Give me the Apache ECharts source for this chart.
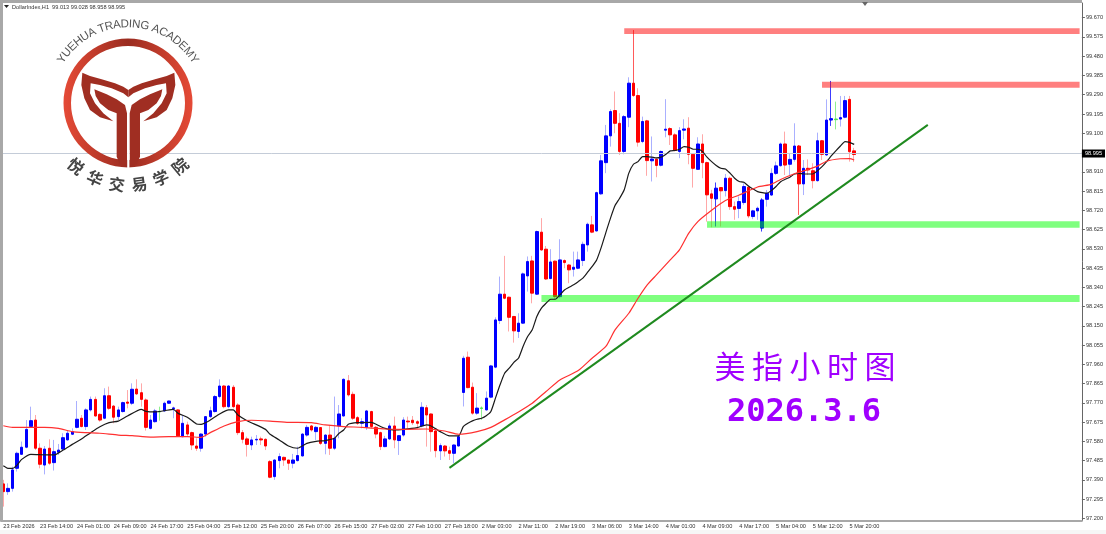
<!DOCTYPE html>
<html><head><meta charset="utf-8"><style>html,body{margin:0;padding:0;background:#fff}#c{width:1106px;height:534px;filter:blur(0.35px)}</style>
<script src="https://cdn.jsdelivr.net/npm/echarts@6/dist/echarts.min.js"></script></head><body><div id="c"></div>
<script>
const tickLabels=["23 Feb 2026","23 Feb 14:00","24 Feb 01:00","24 Feb 09:00","24 Feb 17:00","25 Feb 04:00","25 Feb 12:00","25 Feb 20:00","26 Feb 07:00","26 Feb 15:00","27 Feb 02:00","27 Feb 10:00","27 Feb 18:00","2 Mar 03:00","2 Mar 11:00","2 Mar 19:00","3 Mar 06:00","3 Mar 14:00","4 Mar 01:00","4 Mar 09:00","4 Mar 17:00","5 Mar 04:00","5 Mar 12:00","5 Mar 20:00"];
const priceTicks=[97.200,97.295,97.390,97.485,97.580,97.675,97.770,97.865,97.960,98.055,98.150,98.245,98.340,98.435,98.530,98.625,98.720,98.815,98.910,99.005,99.100,99.195,99.290,99.385,99.480,99.575,99.670];
const open=[97.370,97.332,97.348,97.447,97.516,97.551,97.653,97.685,97.546,97.463,97.546,97.475,97.526,97.542,97.587,97.615,97.649,97.694,97.653,97.735,97.787,97.713,97.694,97.805,97.754,97.702,97.727,97.774,97.768,97.838,97.820,97.784,97.644,97.677,97.725,97.730,97.768,97.741,97.735,97.603,97.661,97.623,97.557,97.546,97.616,97.702,97.727,97.801,97.853,97.751,97.847,97.759,97.623,97.592,97.562,97.587,97.592,97.590,97.480,97.406,97.485,97.501,97.488,97.472,97.485,97.508,97.611,97.656,97.628,97.648,97.570,97.611,97.546,97.656,97.705,97.879,97.812,97.697,97.669,97.649,97.727,97.649,97.623,97.554,97.592,97.656,97.584,97.611,97.680,97.684,97.677,97.656,97.746,97.715,97.631,97.533,97.557,97.534,97.521,97.557,97.821,97.995,97.847,97.719,97.742,97.735,97.798,97.946,98.176,98.306,98.291,98.196,98.122,98.163,98.396,98.470,98.306,98.612,98.528,98.383,98.469,98.294,98.472,98.450,98.429,98.434,98.472,98.549,98.648,98.618,98.801,98.955,99.087,99.212,99.149,99.010,99.179,99.347,99.286,99.059,99.161,98.964,98.972,98.942,99.115,99.123,99.092,99.010,99.115,99.125,98.996,98.922,99.047,98.955,98.801,98.776,98.832,98.817,98.878,98.738,98.729,98.758,98.834,98.689,98.717,98.632,98.774,98.795,98.902,98.940,99.047,98.947,98.971,99.037,98.850,98.927,98.915,98.866,99.063,98.993,99.165,99.167,99.170,99.179,99.267,99.013];
const close=[97.332,97.348,97.439,97.521,97.551,97.639,97.682,97.546,97.467,97.542,97.472,97.529,97.537,97.598,97.620,97.628,97.689,97.653,97.735,97.787,97.705,97.685,97.805,97.743,97.699,97.735,97.771,97.768,97.837,97.814,97.787,97.649,97.685,97.730,97.728,97.768,97.779,97.745,97.607,97.669,97.616,97.562,97.546,97.616,97.702,97.731,97.801,97.853,97.751,97.853,97.751,97.623,97.590,97.565,97.587,97.590,97.587,97.557,97.403,97.488,97.505,97.488,97.472,97.488,97.510,97.616,97.649,97.636,97.649,97.570,97.611,97.546,97.595,97.715,97.886,97.809,97.694,97.669,97.677,97.730,97.653,97.616,97.554,97.592,97.656,97.587,97.608,97.685,97.676,97.672,97.669,97.748,97.710,97.628,97.534,97.559,97.533,97.521,97.562,97.603,97.990,97.845,97.719,97.744,97.745,97.793,97.952,98.179,98.306,98.286,98.192,98.125,98.163,98.406,98.467,98.311,98.615,98.524,98.381,98.465,98.294,98.475,98.462,98.426,98.439,98.475,98.552,98.651,98.612,98.807,98.964,99.087,99.207,99.149,99.010,99.182,99.347,99.286,99.056,99.158,98.965,98.973,98.941,99.010,99.120,99.092,99.015,99.113,99.121,98.996,98.927,99.047,98.955,98.796,98.779,98.829,98.816,98.878,98.738,98.725,98.763,98.837,98.692,98.717,98.730,98.771,98.804,98.902,98.939,99.047,98.943,98.971,99.037,98.850,98.927,98.919,98.866,99.063,98.996,99.165,99.172,99.170,99.177,99.261,99.009,98.995];
const low=[97.258,97.316,97.332,97.431,97.513,97.546,97.649,97.537,97.447,97.417,97.463,97.436,97.513,97.537,97.584,97.611,97.644,97.649,97.636,97.727,97.702,97.677,97.689,97.735,97.669,97.685,97.722,97.743,97.759,97.809,97.751,97.633,97.639,97.672,97.682,97.727,97.764,97.694,97.603,97.600,97.603,97.537,97.533,97.529,97.603,97.694,97.722,97.792,97.743,97.743,97.743,97.611,97.570,97.505,97.537,97.562,97.562,97.537,97.398,97.390,97.447,97.459,97.439,97.447,97.480,97.505,97.603,97.628,97.587,97.562,97.516,97.513,97.537,97.595,97.702,97.801,97.685,97.661,97.644,97.636,97.644,97.595,97.537,97.551,97.587,97.546,97.513,97.603,97.644,97.661,97.644,97.649,97.554,97.529,97.501,97.488,97.505,97.488,97.472,97.554,97.752,97.842,97.711,97.711,97.686,97.732,97.793,97.941,98.159,98.281,98.122,98.067,98.090,98.159,98.319,98.261,98.302,98.521,98.376,98.380,98.281,98.286,98.434,98.360,98.393,98.429,98.445,98.516,98.607,98.615,98.796,98.903,99.034,99.100,98.993,98.996,99.130,99.281,99.034,99.051,98.890,98.862,98.883,98.936,99.080,99.042,99.010,98.977,99.070,98.947,98.832,98.919,98.878,98.664,98.636,98.640,98.640,98.788,98.722,98.673,98.681,98.747,98.681,98.676,98.673,98.615,98.738,98.791,98.894,98.935,98.894,98.894,98.960,98.697,98.795,98.894,98.828,98.861,98.968,98.988,99.136,99.119,99.133,99.174,98.960,98.958];
const high=[97.390,97.373,97.455,97.529,97.579,97.685,97.751,97.710,97.570,97.557,97.590,97.587,97.567,97.620,97.636,97.644,97.779,97.710,97.743,97.801,97.801,97.718,97.842,97.850,97.759,97.751,97.776,97.833,97.866,97.886,97.866,97.792,97.710,97.740,97.751,97.776,97.781,97.751,97.738,97.710,97.677,97.628,97.595,97.620,97.705,97.751,97.809,97.886,97.858,97.858,97.858,97.768,97.636,97.603,97.603,97.611,97.603,97.595,97.488,97.491,97.521,97.505,97.488,97.518,97.554,97.620,97.661,97.661,97.656,97.649,97.615,97.661,97.801,97.759,97.891,97.907,97.825,97.705,97.694,97.735,97.731,97.656,97.628,97.607,97.669,97.702,97.611,97.699,97.702,97.705,97.685,97.773,97.759,97.718,97.636,97.570,97.562,97.554,97.565,97.611,98.002,98.023,97.870,97.818,97.752,97.826,97.957,98.192,98.393,98.495,98.294,98.199,98.212,98.413,98.492,98.495,98.620,98.681,98.544,98.528,98.472,98.577,98.478,98.455,98.516,98.516,98.565,98.659,98.692,98.812,98.993,99.141,99.218,99.306,99.199,99.190,99.376,99.609,99.322,99.182,99.166,99.084,98.977,99.015,99.268,99.130,99.100,99.130,99.169,99.179,99.001,99.080,99.095,98.960,98.821,98.857,98.832,98.899,98.886,98.763,98.788,98.853,98.840,98.722,98.738,98.779,98.820,98.927,98.960,99.054,99.108,99.001,99.149,99.042,98.968,98.971,98.952,99.103,99.067,99.267,99.358,99.256,99.284,99.284,99.284,99.028];
const greenBars=[34,104,181];
const strongWicks=[137,155,165,173,180];
const blackMA=[[0,97.459],[1,97.447],[2,97.447],[3,97.463],[4,97.491],[6,97.516],[8,97.514],[11,97.513],[13,97.537],[15,97.565],[17,97.592],[19,97.623],[21,97.652],[23,97.672],[25,97.680],[27,97.705],[30,97.738],[31,97.728],[33,97.725],[35,97.731],[37,97.738],[38,97.718],[40,97.699],[42,97.666],[43,97.664],[45,97.685],[47,97.715],[49,97.735],[50,97.735],[51,97.710],[53,97.682],[57,97.639],[58,97.615],[60,97.587],[62,97.557],[64,97.546],[66,97.570],[68,97.580],[70,97.584],[72,97.595],[73,97.620],[74,97.636],[75,97.664],[77,97.672],[80,97.674],[82,97.653],[83,97.644],[85,97.636],[87,97.639],[90,97.648],[92,97.661],[93,97.656],[95,97.628],[97,97.607],[99,97.607],[100,97.653],[101,97.669],[102,97.681],[103,97.689],[104,97.694],[105,97.706],[106,97.727],[107,97.793],[108,97.859],[109,97.916],[110,97.941],[111,97.970],[112,97.990],[113,98.048],[114,98.097],[115,98.130],[116,98.196],[117,98.237],[118,98.261],[119,98.281],[120,98.281],[121,98.302],[122,98.327],[123,98.340],[124,98.352],[125,98.368],[126,98.385],[127,98.413],[128,98.442],[129,98.475],[130,98.537],[131,98.610],[132,98.680],[133,98.743],[134,98.779],[135,98.821],[136,98.903],[137,98.947],[138,98.960],[139,98.985],[140,98.985],[141,98.982],[142,98.978],[143,98.982],[144,98.995],[145,99.013],[146,99.015],[147,99.021],[148,99.034],[149,99.031],[150,99.021],[151,99.021],[152,99.010],[153,98.982],[154,98.960],[155,98.941],[156,98.927],[157,98.924],[158,98.903],[159,98.878],[160,98.862],[161,98.858],[162,98.840],[163,98.825],[164,98.812],[165,98.807],[166,98.804],[167,98.817],[168,98.837],[169,98.861],[170,98.873],[171,98.883],[172,98.899],[173,98.902],[174,98.899],[175,98.899],[176,98.899],[177,98.915],[178,98.935],[179,98.960],[180,98.988],[181,99.013],[182,99.037],[183,99.059],[184,99.055],[185,99.045]];
const redMA=[[0,97.657],[2,97.649],[5,97.649],[9,97.649],[12,97.644],[15,97.628],[18,97.623],[21,97.620],[25,97.611],[28,97.608],[32,97.601],[36,97.603],[40,97.603],[43,97.600],[45,97.623],[48,97.656],[51,97.677],[54,97.684],[58,97.680],[62,97.674],[67,97.672],[70,97.661],[74,97.653],[78,97.649],[83,97.641],[87,97.639],[92,97.641],[96,97.631],[99,97.615],[103,97.628],[106,97.649],[109,97.686],[112,97.725],[115,97.768],[118,97.826],[121,97.883],[125,97.929],[128,97.990],[131,98.048],[133,98.130],[136,98.212],[138,98.286],[140,98.352],[142,98.401],[145,98.475],[147,98.525],[149,98.606],[151,98.664],[154,98.720],[157,98.768],[160,98.795],[164,98.835],[167,98.848],[169,98.872],[172,98.900],[174,98.914],[177,98.938],[179,98.962],[182,98.974],[184,98.975],[185,98.968]];
const trendLine=[[97,97.449],[201,99.141]];
const redZones=[[135,234,99.590,99.618],[178,234,99.325,99.354]];
const greenZones=[[153,234,98.634,98.666],[117,234,98.267,98.302]];
const lastPrice=98.995;
const chartTitle="DollarIndex,H1  99.013 99.028 98.958 98.995";
const bigTitle="美指小时图", bigDate="2026.3.6", logoEn="YUEHUA TRADING ACADEMY", logoCn="悦华交易学院";

const slotCount=235;
const cats=Array.from({length:slotCount},(_,i)=>(i%8===0&&tickLabels[i/8])||"");
const BLUE="#0000ff",RED="#ff0000";
const wickData=open.map((o,i)=>{
  const g=greenBars.includes(i),s=strongWicks.includes(i),up=close[i]>=o;
  const col=g?"#8fef8f":(up?(s?"#3c3cff":"#aab0ff"):(s?"#ff5a5a":"#ffa8a8"));
  return {value:[o,close[i],low[i],high[i]],itemStyle:{color:col,color0:col,borderColor:col,borderColor0:col,borderColorDoji:col}};
});
const bodyData=open.map((o,i)=>{
  const g=greenBars.includes(i),up=close[i]>=o,col=g?"#50e050":(up?BLUE:RED);
  return {value:[o,close[i],Math.min(o,close[i]),Math.max(o,close[i])],itemStyle:{color:col,color0:col,borderColor:col,borderColor0:col,borderColorDoji:col}};
});
const zone=(z,c)=>[{xAxis:z[0],yAxis:z[3],itemStyle:{color:c}},{xAxis:z[1],yAxis:z[2]}];

// logo
const logo=[];
const LX=128,LY=103;
logo.push({type:'ring',z:95,silent:true,shape:{cx:LX,cy:LY,r:64.5,r0:57},style:{fill:{type:'linear',x:0,y:0,x2:1,y2:0,colorStops:[{offset:0,color:'#e54a36'},{offset:.5,color:'#9a2c20'},{offset:1,color:'#e54a36'}]}}});
const bandShape=[[22,38],[45,48],[80,58],[120,70],[145,80],[160,90],[160,112],[145,100],[110,85],[75,75],[47,70],[45,100],[60,130],[85,160],[115,184],[75,172],[45,150],[28,115],[19,75]];
const leafShape=[[58,88],[95,103],[125,118],[150,135],[156,160],[156,315],[135,312],[125,290],[125,160],[100,150],[75,130],[62,108]];
const toPx=(p,m)=>[75+(m?320-p[0]:p[0])/3,60+p[1]/3];
for(const s of [bandShape,leafShape]) for(const m of [false,true])
  logo.push({type:'polygon',z:96,silent:true,shape:{points:s.map(p=>toPx(p,m))},style:{fill:'#a02e22'}});
logo.push({type:'rect',z:97,silent:true,shape:{x:127.2,y:150,width:2.2,height:20},style:{fill:'#fff'}});
const mctx=document.createElement('canvas').getContext('2d');
mctx.font='11.5px "Liberation Sans"';
const en=[...logoEn],R1=79;
const widths=en.map(c=>mctx.measureText(c).width),totalW=widths.reduce((a,b)=>a+b,0);
let run=-totalW/2;
en.forEach((ch,i)=>{const a=(run+widths[i]/2)/R1; run+=widths[i];
  logo.push({type:'text',z:98,silent:true,x:LX+R1*Math.sin(a),y:LY-R1*Math.cos(a),rotation:-a,style:{text:ch,fill:'#555',font:'11.5px "Liberation Sans"',align:'center',verticalAlign:'middle'}});});
const cn=[...logoCn],R2=82;
cn.forEach((ch,i)=>{const a=(-39.5+79*i/(cn.length-1))*Math.PI/180;
  logo.push({type:'text',z:98,silent:true,x:LX+R2*Math.sin(a),y:LY+R2*Math.cos(a),rotation:a,style:{text:ch,fill:'#444',font:'bold 16px "Noto Sans CJK SC"',align:'center',verticalAlign:'middle'}});});

const chart=echarts.init(document.getElementById('c'),null,{renderer:'canvas'});
chart.setOption({
  animation:false,backgroundColor:'#fff',
  grid:{left:1,right:24,top:3,bottom:13.5,containLabel:false},
  xAxis:{type:'category',data:cats,boundaryGap:true,
    axisLine:{lineStyle:{color:'#a8a8a8',width:2}},
    axisTick:{length:3,alignWithLabel:true,interval:(i)=>cats[i]!=="",lineStyle:{color:'#666',width:1}},
    axisLabel:{interval:(i)=>cats[i]!=="",align:'left',margin:3,fontSize:5.6,fontFamily:'"Liberation Sans"',color:'#333',showMinLabel:true,hideOverlap:false},
    splitLine:{show:false}},
  yAxis:{type:'value',position:'right',min:97.1895,max:99.7425,scale:true,
    axisLine:{show:true,lineStyle:{color:'#666',width:1}},
    axisTick:{show:true,length:3,customValues:priceTicks,lineStyle:{color:'#666'}},
    axisLabel:{customValues:priceTicks,formatter:v=>v.toFixed(3),margin:4,fontSize:5.6,fontFamily:'"Liberation Sans"',color:'#333'},
    splitLine:{show:false}},
  series:[
    {type:'candlestick',name:'wicks',barWidth:1,z:2,data:wickData,silent:true},
    {type:'candlestick',name:'bodies',barWidth:3,z:3,data:bodyData,silent:true},
    {type:'line',name:'MA black',data:blackMA,showSymbol:false,smooth:.2,z:5,silent:true,lineStyle:{color:'#1a1a1a',width:1.2}},
    {type:'line',name:'MA red',data:redMA,showSymbol:false,smooth:.2,z:5,silent:true,lineStyle:{color:'#ff3030',width:1.2}},
    {type:'line',name:'trend',data:trendLine,showSymbol:false,z:6,silent:true,lineStyle:{color:'#1f8a1f',width:2},
      markArea:{silent:true,z:4,data:[...redZones.map(z=>zone(z,'rgba(255,0,0,.5)')),...greenZones.map(z=>zone(z,'rgba(0,255,0,.5)'))]},
      markLine:{silent:true,symbol:'none',animation:false,lineStyle:{color:'#c4ccd8',width:1,type:'solid'},
        label:{position:'end',distance:0,formatter:()=>lastPrice.toFixed(3),color:'#fff',backgroundColor:'#000',fontSize:5.6,fontFamily:'"Liberation Sans"',padding:[1,3,1,3]},
        data:[{yAxis:lastPrice}]}}
  ],
  graphic:{elements:[
    {type:'rect',z:90,silent:true,shape:{x:0,y:0,width:1082,height:3},style:{fill:'#a8a8a8'}},
    {type:'rect',z:90,silent:true,shape:{x:0,y:0,width:3,height:521},style:{fill:'#a8a8a8'}},
    {type:'rect',z:1,silent:true,shape:{x:0,y:530,width:1106,height:4},style:{fill:'#f6f6f6'}},
    {type:'polygon',z:91,silent:true,shape:{points:[[862,2],[868,2],[865,6]]},style:{fill:'#666'}},
    {type:'polygon',z:91,silent:true,shape:{points:[[4,5],[9,5],[6.5,8]]},style:{fill:'#222'}},
    {type:'text',z:91,silent:true,x:12,y:7,style:{text:chartTitle,fill:'#333',font:'5.6px "Liberation Sans"',verticalAlign:'middle'}},
    ...logo,
    ...[...bigTitle].map((ch,i)=>({type:'text',z:92,silent:true,x:730+i*37.5,y:366.5,style:{text:ch,fill:'#a000ff',font:'31px "Noto Sans CJK SC"',align:'center',verticalAlign:'middle'}})),
    {type:'text',z:92,silent:true,x:804,y:413,style:{text:bigDate,fill:'#a000ff',font:'bold 32px "DejaVu Sans Mono"',align:'center',verticalAlign:'middle'}}
  ]}
});
</script></body></html>
